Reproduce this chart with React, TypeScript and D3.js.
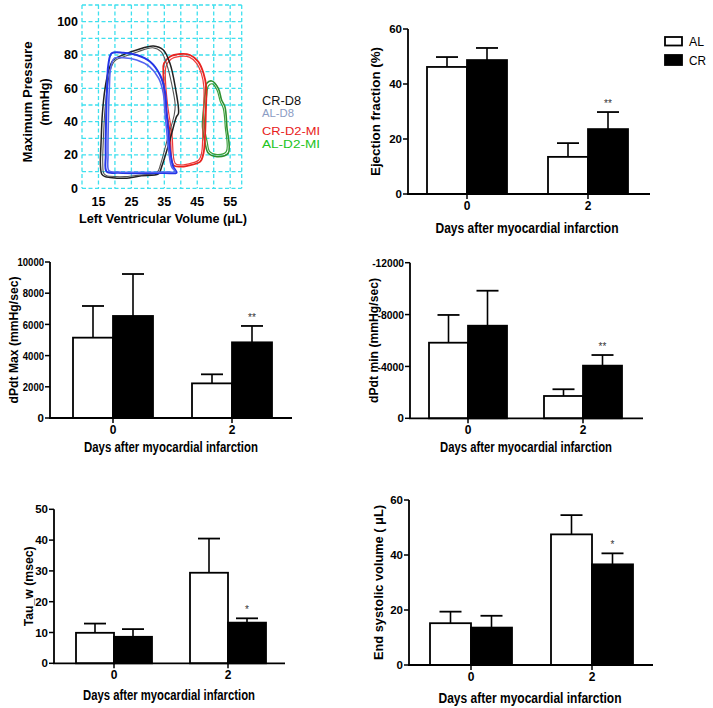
import React from "react";
import * as d3 from "d3";

// ---------- DATA ----------
const days = [0, 2];
const groups = ["AL", "CR"];

// Ejection fraction (%)
const efAL = [46.2, 13.5];
const efALErr = [49.8, 18.5];
const efCR = [48.7, 23.6];
const efCRErr = [53.1, 29.8];
const efSig = ["", "**"];

// dPdt Max (mmHg/sec)
const dpMaxAL = [5150, 2220];
const dpMaxALErr = [7180, 2800];
const dpMaxCR = [6540, 4850];
const dpMaxCRErr = [9230, 5900];
const dpMaxSig = ["", "**"];

// dPdt min (mmHg/sec), magnitudes (axis labelled negative)
const dpMinAL = [5830, 1720];
const dpMinALErr = [7970, 2240];
const dpMinCR = [7140, 4060];
const dpMinCRErr = [9840, 4880];
const dpMinSig = ["", "**"];

// Tau_w (msec)
const tauAL = [9.9, 29.4];
const tauALErr = [12.9, 40.5];
const tauCR = [8.6, 13.2];
const tauCRErr = [11.1, 14.6];
const tauSig = ["", "*"];

// End systolic volume (uL)
const esvAL = [15.2, 47.5];
const esvALErr = [19.4, 54.5];
const esvCR = [13.6, 36.6];
const esvCRErr = [17.9, 40.6];
const esvSig = ["", "*"];

// Pressure-volume loops [volume uL, pressure mmHg]
const crD8Loop1: [number, number][] = [
  [17, 7], [16, 8.5], [15.6, 14], [15.8, 28], [16.2, 45], [17, 60], [18, 70], [19.5, 77], [23, 80.5], [26.6, 83], [31.7, 85.4], [34.7, 83], [36.7, 75], [38.3, 61], [39.3, 45], [38.7, 43], [36.7, 29], [34.2, 13], [33.2, 8.6], [28, 7.5], [23, 6], [18.5, 6.5],
];
const crD8Loop2: [number, number][] = [
  [17.5, 7.5], [16.6, 9], [16.3, 15], [16.5, 30], [17, 48], [17.8, 62], [18.6, 71], [20, 76.5], [23.5, 79.5], [27, 82], [31.5, 84.3], [34, 82], [35.8, 74], [37.3, 62], [38.3, 50], [38, 44], [36, 30], [33.8, 14], [32.8, 9.5], [28, 8], [23, 7], [18.5, 7.2],
];
const alD8Loop1: [number, number][] = [
  [17.5, 10], [17.2, 20], [17.3, 40], [17.6, 60], [18, 74], [19, 81], [22.5, 81.4], [26.6, 80], [30.7, 76], [33.7, 68], [35.2, 58], [35.7, 45], [36.2, 35], [36.7, 23], [37.7, 13], [38.7, 9.4], [35, 9.2], [28, 9], [21, 9.3],
];
const alD8Loop2: [number, number][] = [
  [18.2, 10.5], [17.9, 20], [18, 40], [18.3, 60], [18.7, 72], [19.8, 78], [22.5, 78.3], [26.6, 77], [30.5, 73], [33.3, 66], [34.7, 57], [35.2, 45], [35.7, 35], [36.3, 23], [37.2, 13], [38.3, 10], [35, 9.8], [28, 9.6], [21, 9.8],
];
const crD2Loop1: [number, number][] = [
  [34.7, 70], [34.9, 75], [36.7, 79], [39.8, 80.6], [42.8, 80], [45.3, 76], [46.9, 69], [47.7, 61], [47.6, 45], [47.4, 33], [46.9, 21], [45.9, 16], [42, 13.5], [39.8, 13], [37.7, 14], [36.7, 33], [35.4, 50],
];
const crD2Loop2: [number, number][] = [
  [35.3, 68], [35.5, 73], [37, 77.5], [39.8, 79.2], [42.6, 78.7], [44.8, 75], [46.3, 68.5], [47, 61], [46.9, 45], [46.7, 33], [46.3, 21], [45.4, 16.8], [42, 14.5], [39.8, 14], [38.3, 15], [37.3, 33], [36, 50],
];
const alD2Loop1: [number, number][] = [
  [46.9, 47], [47.4, 57], [47.9, 63], [49.4, 64.4], [51.4, 60], [52.4, 53], [53.4, 49], [54, 37], [54.4, 21], [51, 19], [48.4, 21], [47.4, 27], [46.6, 37],
];
const alD2Loop2: [number, number][] = [
  [47.5, 47], [47.9, 56], [48.4, 61.5], [49.6, 62.7], [51, 59], [52, 52], [52.9, 48], [53.5, 37], [53.8, 22], [51, 20.2], [48.8, 22], [48, 28], [47.2, 37],
];

const pvYTicks = [0, 20, 40, 60, 80, 100];
const pvXTicks = [15, 25, 35, 45, 55];
const pvLegend = ["CR-D8", "AL-D8", "CR-D2-MI", "AL-D2-MI"];

// ---------- STYLE ----------
const SANS = "'Liberation Sans', Arial, sans-serif";

type BarProps = {
  axisX: number; axisEnd: number; y0: number; yTop: number; maxV: number;
  ticks: number[]; fmt: (v: number) => string;
  c0: number; c2: number; barW: number;
  al: number[]; alErr: number[]; cr: number[]; crErr: number[]; sig: string[];
  title: string; titleX: number; titleLen: number; xTitleY: number; xTitleX: number; xTitleLen: number;
};

function BarPanel(p: BarProps) {
  const y = d3.scaleLinear().domain([0, p.maxV]).range([p.y0, p.yTop]);
  const x = d3.scaleLinear().domain([0, 2]).range([p.c0, p.c2]);
  const cap = 11;
  const series = [
    { vals: p.al, errs: p.alErr, fill: "#fff", off: -1 },
    { vals: p.cr, errs: p.crErr, fill: "#000", off: 0 },
  ];
  return (
    <g>
      {series.map((s, si) =>
        days.map((d, i) => {
          const bx = x(d) + s.off * p.barW;
          const cx = bx + p.barW / 2;
          return (
            <g key={si + "-" + i}>
              <line x1={cx} x2={cx} y1={y(s.vals[i])} y2={y(s.errs[i])} stroke="#000" strokeWidth={1.6} />
              <line x1={cx - cap} x2={cx + cap} y1={y(s.errs[i])} y2={y(s.errs[i])} stroke="#000" strokeWidth={1.8} />
              <rect x={bx} y={y(s.vals[i])} width={p.barW} height={p.y0 - y(s.vals[i])} fill={s.fill} stroke="#000" strokeWidth={1.8} />
              {si === 1 && p.sig[i] ? (
                <text x={cx} y={y(s.errs[i]) - 5} textAnchor="middle" fontFamily={SANS} fontSize={10} fill="#333">{p.sig[i]}</text>
              ) : null}
            </g>
          );
        })
      )}
      <line x1={p.axisX} x2={p.axisX} y1={p.y0} y2={p.yTop} stroke="#000" strokeWidth={1.8} />
      <line x1={p.axisX - 1} x2={p.axisEnd} y1={p.y0} y2={p.y0} stroke="#000" strokeWidth={1.8} />
      {p.ticks.map((t) => {
        const s = p.fmt(t);
        const narrow = s.length >= 4;
        return (
          <g key={t}>
            <line x1={p.axisX - 5} x2={p.axisX} y1={y(t)} y2={y(t)} stroke="#000" strokeWidth={1.5} />
            <text x={p.axisX - 6} y={y(t)} dy="0.36em" textAnchor="end" fontFamily={SANS} fontWeight="bold" fontSize={11.5}
              {...(narrow ? { textLength: s.length * 5.3, lengthAdjust: "spacingAndGlyphs" } : {})}>{s}</text>
          </g>
        );
      })}
      {days.map((d) => (
        <g key={d}>
          <line x1={x(d)} x2={x(d)} y1={p.y0} y2={p.y0 + 5} stroke="#000" strokeWidth={1.5} />
          <text x={x(d)} y={p.y0 + 16} textAnchor="middle" fontFamily={SANS} fontWeight="bold" fontSize={12}>{d}</text>
        </g>
      ))}
      <text transform={`translate(${p.titleX},${(p.y0 + p.yTop) / 2}) rotate(-90)`} dy="0.35em" textAnchor="middle" fontFamily={SANS} fontWeight="bold" fontSize={13.5}
        textLength={p.titleLen} lengthAdjust="spacingAndGlyphs">{p.title}</text>
      <text x={p.xTitleX} y={p.xTitleY} dy="0.35em" textAnchor="middle" fontFamily={SANS} fontWeight="bold" fontSize={14}
        textLength={p.xTitleLen} lengthAdjust="spacingAndGlyphs">Days after myocardial infarction</text>
    </g>
  );
}

function PVPanel() {
  const x = d3.scaleLinear().domain([10, 58.5]).range([82, 241.7]);
  const y = d3.scaleLinear().domain([0, 110]).range([188.3, 5]);
  const line = d3.line<[number, number]>().x((d) => x(d[0])).y((d) => y(d[1])).curve(d3.curveCatmullRomClosed.alpha(0.5));
  const gx = d3.range(10, 56, 5).concat([58.5]);
  const gy = d3.range(0, 111, 10);
  const grid = "#3fe0ee";
  const loops = [
    { d: alD2Loop1, c: "#2f8f2f", w: 1.6 },
    { d: alD2Loop2, c: "#3aa03a", w: 1.2 },
    { d: crD2Loop1, c: "#e8231f", w: 1.8 },
    { d: crD2Loop2, c: "#f03a3a", w: 1.2 },
    { d: crD8Loop1, c: "#222", w: 1.5 },
    { d: crD8Loop2, c: "#555", w: 1.1 },
    { d: alD8Loop1, c: "#2435e6", w: 2 },
    { d: alD8Loop2, c: "#5563f0", w: 1.6 },
  ];
  const legColors = ["#111", "#8b9cc4", "#e82020", "#22c322"];
  const legY = [100.5, 113, 130.5, 143.5];
  const legSize = [12.5, 10.5, 11.5, 11.5];
  const legLen = [39, 32, 58, 58];
  return (
    <g>
      {gx.map((v) => (
        <line key={"gx" + v} x1={x(v)} x2={x(v)} y1={y(110)} y2={y(0)} stroke={grid} strokeWidth={1.3} strokeDasharray="4 2.5" />
      ))}
      {gy.map((v) => (
        <line key={"gy" + v} x1={x(10)} x2={x(58.5)} y1={y(v)} y2={y(v)} stroke={grid} strokeWidth={1.3} strokeDasharray="4 2.5" />
      ))}
      {loops.map((l, i) => (
        <path key={i} d={line(l.d) || ""} fill="none" stroke={l.c} strokeWidth={l.w} />
      ))}
      {pvYTicks.map((t) => (
        <text key={t} x={78} y={y(t)} dy="0.36em" textAnchor="end" fontFamily={SANS} fontWeight="bold" fontSize={12.5}>{t}</text>
      ))}
      {pvXTicks.map((t) => (
        <text key={t} x={x(t)} y={201} dy="0.36em" textAnchor="middle" fontFamily={SANS} fontWeight="bold" fontSize={12.5}>{t}</text>
      ))}
      <text transform="translate(28,102) rotate(-90)" dy="0.35em" textAnchor="middle" fontFamily={SANS} fontWeight="bold" fontSize={12.5}
        textLength={121} lengthAdjust="spacingAndGlyphs">Maximum  Pressure</text>
      <text transform="translate(45,102) rotate(-90)" dy="0.35em" textAnchor="middle" fontFamily={SANS} fontWeight="bold" fontSize={12.5}>(mmHg)</text>
      <text x={163} y={219} dy="0.35em" textAnchor="middle" fontFamily={SANS} fontWeight="bold" fontSize={12.5}
        textLength={168} lengthAdjust="spacingAndGlyphs">Left Ventricular Volume (μL)</text>
      {pvLegend.map((s, i) => (
        <text key={s} x={262} y={legY[i]} dy="0.35em" fontFamily={SANS} fontSize={legSize[i]} fill={legColors[i]}
          textLength={legLen[i]} lengthAdjust="spacingAndGlyphs">{s}</text>
      ))}
    </g>
  );
}

export default function App() {
  const plain = (v: number) => String(v);
  return (
    <svg width={713} height={708} style={{ position: "absolute", left: 0, top: 0, background: "#fff" }}>
      <rect width={713} height={708} fill="#fff" />
      <PVPanel />
      <BarPanel axisX={408} axisEnd={650} y0={194} yTop={29} maxV={60} ticks={[0, 20, 40, 60]} fmt={plain}
        c0={467} c2={588} barW={40} al={efAL} alErr={efALErr} cr={efCR} crErr={efCRErr} sig={efSig}
        title="Ejection fraction (%)" titleX={375} titleLen={129} xTitleY={228} xTitleX={527} xTitleLen={183} />
      <BarPanel axisX={50} axisEnd={292} y0={418} yTop={262} maxV={10000} ticks={[0, 2000, 4000, 6000, 8000, 10000]} fmt={plain}
        c0={113} c2={232} barW={40} al={dpMaxAL} alErr={dpMaxALErr} cr={dpMaxCR} crErr={dpMaxCRErr} sig={dpMaxSig}
        title="dPdt Max (mmHg/sec)" titleX={13} titleLen={127} xTitleY={447} xTitleX={171} xTitleLen={174} />
      <BarPanel axisX={410} axisEnd={643} y0={418.3} yTop={262.7} maxV={12000} ticks={[0, 4000, 8000, 12000]} fmt={(v) => (v === 0 ? "0" : "-" + v)}
        c0={468} c2={583} barW={39} al={dpMinAL} alErr={dpMinALErr} cr={dpMinCR} crErr={dpMinCRErr} sig={dpMinSig}
        title="dPdt min (mmHg/sec)" titleX={373} titleLen={125} xTitleY={447} xTitleX={526} xTitleLen={172} />
      <BarPanel axisX={54} axisEnd={285} y0={663.3} yTop={509.3} maxV={50} ticks={[0, 10, 20, 30, 40, 50]} fmt={plain}
        c0={114} c2={228} barW={38} al={tauAL} alErr={tauALErr} cr={tauCR} crErr={tauCRErr} sig={tauSig}
        title="Tau_w (msec)" titleX={28} titleLen={80} xTitleY={695} xTitleX={169} xTitleLen={172} />
      <BarPanel axisX={409} axisEnd={653} y0={665} yTop={500} maxV={60} ticks={[0, 20, 40, 60]} fmt={plain}
        c0={471} c2={592} barW={41} al={esvAL} alErr={esvALErr} cr={esvCR} crErr={esvCRErr} sig={esvSig}
        title="End systolic volume ( μL)" titleX={378} titleLen={155} xTitleY={698} xTitleX={530} xTitleLen={183} />
      {/* legend */}
      {groups.map((g, i) => (
        <g key={g}>
          <rect x={665} y={i === 0 ? 37 : 55} width={17} height={i === 0 ? 8.5 : 10} fill={i === 0 ? "#fff" : "#000"} stroke="#000" strokeWidth={1.8} />
          <text x={689} y={i === 0 ? 41 : 60} dy="0.35em" fontFamily={SANS} fontSize={13} textLength={i === 0 ? 15 : 17} lengthAdjust="spacingAndGlyphs">{g}</text>
        </g>
      ))}
    </svg>
  );
}
